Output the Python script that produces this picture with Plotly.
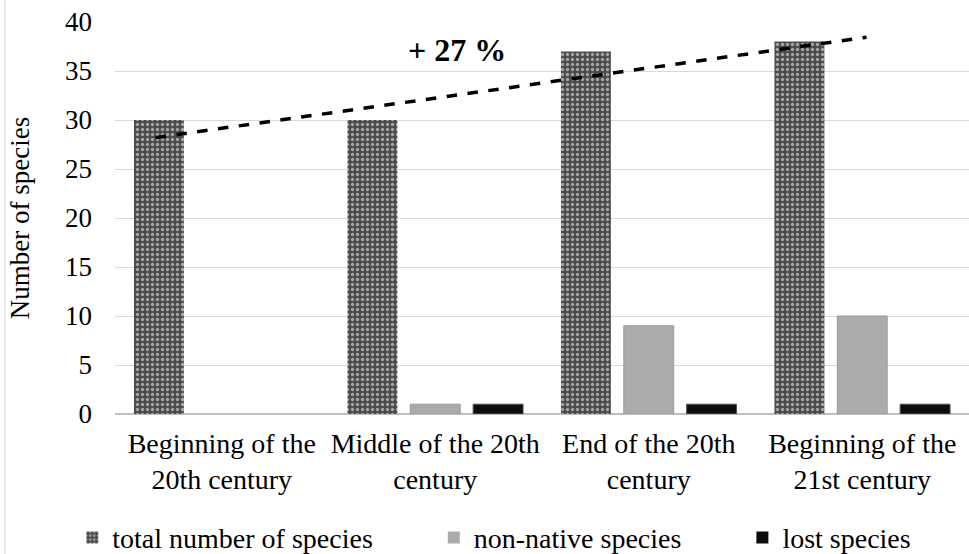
import plotly.graph_objects as go

categories = ["Beginning of the<br>20th century", "Middle of the 20th<br>century",
              "End of the 20th<br>century", "Beginning of the<br>21st century"]
total_species = [30, 30, 37, 38]
non_native = [0, 1, 9, 10]
lost_species = [0, 1, 1, 1]
series_names = ["total number of species", "non-native species", "lost species"]
trend_x = [-0.31, 3.02]
trend_y = [28.2, 38.45]
y_ticks = [0, 5, 10, 15, 20, 25, 30, 35, 40]

xpos = list(range(len(categories)))
FONT = "Liberation Serif"
PAD = "\u00a0" * 8

fig = go.Figure()
fig.add_trace(go.Bar(
    x=xpos, y=total_species, name=series_names[0] + PAD,
    marker=dict(color="#4a4a4a", line=dict(width=0),
                pattern=dict(shape=".", fgcolor="#ffffff", bgcolor="#4a4a4a",
                             size=5, solidity=0.35, fillmode="overlay")),
))
fig.add_trace(go.Bar(
    x=xpos, y=non_native, name=series_names[1] + PAD,
    marker=dict(color="#ababab",
                line=dict(color="#9a9a9a", width=[0 if v == 0 else 1 for v in non_native])),
))
fig.add_trace(go.Bar(
    x=xpos, y=lost_species, name=series_names[2],
    marker=dict(color="#0d0d0d",
                line=dict(color="#555555", width=[0 if v == 0 else 1 for v in lost_species])),
))
fig.add_trace(go.Scatter(
    x=trend_x, y=trend_y, mode="lines", showlegend=False,
    line=dict(color="black", width=3.5, dash="dash"), hoverinfo="skip",
))

fig.add_annotation(x=1.1, y=37.1, text="<b>+ 27 %</b>", showarrow=False,
                   font=dict(family=FONT, size=32, color="black"))

fig.add_shape(type="line", xref="paper", yref="paper",
              x0=-0.1288, x1=-0.1288, y0=-0.36, y1=1.06,
              line=dict(color="#d0d0d0", width=1))

fig.update_layout(
    width=969, height=554,
    margin=dict(l=115, r=0, t=22, b=140, autoexpand=False),
    paper_bgcolor="white", plot_bgcolor="white",
    barmode="group", bargap=0.117, bargroupgap=0.206,
    font=dict(family=FONT, size=27, color="black"),
    showlegend=True,
    legend=dict(orientation="h", x=-0.05, xanchor="left", y=-0.316, yanchor="middle",
                font=dict(family=FONT, size=28, color="black"),
                itemwidth=30, traceorder="normal"),
    xaxis=dict(range=[-0.5, 3.5], tickvals=xpos, ticktext=categories,
               showgrid=False, zeroline=False, showline=False, automargin=False,
               tickfont=dict(family=FONT, size=28, color="black"), ticks="",
               ticklabelstandoff=10),
    yaxis=dict(range=[0, 40], tickvals=y_ticks, showgrid=True, gridcolor="#d9d9d9",
               gridwidth=1, zeroline=True, zerolinecolor="#bfbfbf", zerolinewidth=1.5,
               automargin=False, ticklabelstandoff=22,
               tickfont=dict(family=FONT, size=27, color="black"), ticks="",
               title=dict(text="Number of species", font=dict(family=FONT, size=27),
                          standoff=27)),
)

fig.write_html("out.html", config={"displayModeBar": False},
               post_script="document.body.style.margin='0';document.body.style.overflow='hidden';")
